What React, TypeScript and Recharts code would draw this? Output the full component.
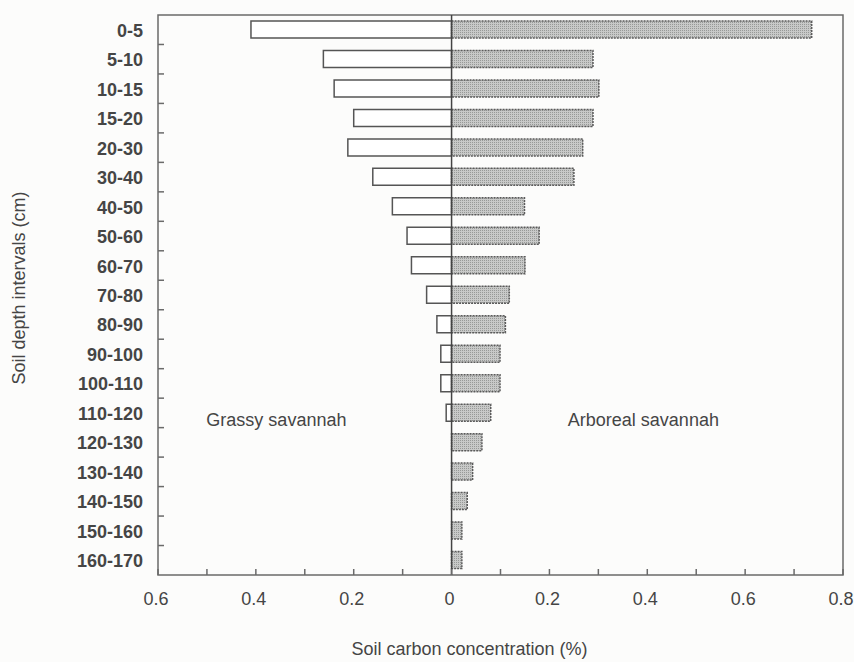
import React from 'react';
import { BarChart, Bar, XAxis, YAxis, ReferenceLine, ReferenceArea, ReferenceDot, Label } from 'recharts';

const categories = ['0-5', '5-10', '10-15', '15-20', '20-30', '30-40', '40-50', '50-60', '60-70', '70-80', '80-90', '90-100', '100-110', '110-120', '120-130', '130-140', '140-150', '150-160', '160-170'];
const grassy = [0.41, 0.262, 0.24, 0.2, 0.212, 0.161, 0.121, 0.091, 0.082, 0.051, 0.03, 0.022, 0.022, 0.011, 0, 0, 0, 0, 0];
const arboreal = [0.736, 0.289, 0.301, 0.289, 0.268, 0.25, 0.149, 0.179, 0.15, 0.118, 0.11, 0.099, 0.099, 0.08, 0.062, 0.043, 0.032, 0.021, 0.021];
const xTicks = [-0.6, -0.5, -0.4, -0.3, -0.2, -0.1, 0, 0.1, 0.2, 0.3, 0.4, 0.5, 0.6, 0.7, 0.8];

const data = categories.map((c, i) => ({ depth: c, grassy: -grassy[i], arboreal: arboreal[i] }));

const TEXT = '#454545';
const LINE = '#6a6a6a';
const FONT = 'Arial, "Liberation Sans", Helvetica, sans-serif';

const XTick = (props: any) => {
  const { x, y, payload } = props;
  const v = payload.value as number;
  const major = Math.round(v * 10) % 2 === 0;
  return (
    <g>
      <line x1={x} y1={y} x2={x} y2={y - 6} stroke={LINE} strokeWidth={1.5} />
      {major && (
        <text x={x - 2} y={y + 30} textAnchor="middle" fontSize={18} fill={TEXT} fontFamily={FONT}>
          {Math.abs(v) === 0 ? '0' : String(Math.abs(v))}
        </text>
      )}
    </g>
  );
};

const YTick = (props: any) => {
  const { x, y, payload, index, visibleTicksCount } = props;
  const half = payload && typeof payload.offset === 'number' && payload.offset > 0 ? payload.offset : 14.74;
  const last = index === (visibleTicksCount ?? categories.length) - 1;
  return (
    <g>
      {!last && <line x1={x} y1={y + half} x2={x + 6} y2={y + half} stroke={LINE} strokeWidth={1.5} />}
      <text x={x - 15} y={y + 7} textAnchor="end" fontSize={18} fontWeight="bold" fill={TEXT} fontFamily={FONT}>
        {payload.value}
      </text>
    </g>
  );
};

const YTitle = (props: any) => {
  const vb = props.viewBox || { x: 0, y: 15, width: 158, height: 560 };
  const cx = vb.x + 25;
  const cy = vb.y + vb.height / 2 - 7;
  return (
    <text x={cx} y={cy} transform={`rotate(-90 ${cx} ${cy})`} textAnchor="middle" fontSize={18} fill={TEXT} fontFamily={FONT}>
      Soil depth intervals  (cm)
    </text>
  );
};

const XTitle = (props: any) => {
  const vb = props.viewBox || { x: 158, y: 575, width: 685, height: 30 };
  return (
    <text x={vb.x + vb.width / 2 - 31} y={vb.y + 80} textAnchor="middle" fontSize={18} fill={TEXT} fontFamily={FONT}>
      Soil carbon concentration (%)
    </text>
  );
};

const anno = (txt: string) => (props: any) => {
  const vb = props.viewBox;
  if (!vb) return null;
  return (
    <text x={vb.x + (vb.width || 0) / 2} y={vb.y + (vb.height || 0) / 2 + 13} textAnchor="middle" fontSize={18} fill={TEXT} fontFamily={FONT}>
      {txt}
    </text>
  );
};

export default function App() {
  return (
    <div style={{ position: 'absolute', left: 0, top: 0, width: 854, height: 662, background: '#fcfcfb' }}>
      <BarChart
        width={854}
        height={662}
        data={data}
        layout="vertical"
        stackOffset="sign"
        margin={{ top: 15, right: 11, bottom: 57, left: 0 }}
      >
        <defs>
          <pattern id="stip" width="2" height="2" patternUnits="userSpaceOnUse">
            <rect width="2" height="2" fill="#c8c9c8" />
            <rect width="1" height="1" fill="#979997" />
          </pattern>
        </defs>
        <XAxis
          type="number"
          domain={[-0.6, 0.8]}
          ticks={xTicks}
          interval={0}
          axisLine={false}
          tickLine={false}
          tickSize={0}
          tickMargin={0}
          height={30}
          tick={<XTick />}
          allowDataOverflow
        >
          <Label content={<XTitle />} />
        </XAxis>
        <YAxis
          type="category"
          dataKey="depth"
          width={158}
          axisLine={false}
          tickLine={false}
          tickSize={0}
          tickMargin={0}
          interval={0}
          tick={<YTick />}
        >
          <Label content={<YTitle />} />
        </YAxis>
        <ReferenceArea x1={-0.6} x2={0.8} fill="none" stroke={LINE} strokeWidth={1.5} fillOpacity={0} />
        <Bar dataKey="grassy" stackId="s" barSize={17} fill="#ffffff" stroke="#555555" strokeWidth={1.5} isAnimationActive={false} />
        <Bar dataKey="arboreal" stackId="s" barSize={17} fill="url(#stip) #bbbcbb" stroke="#5a5a5a" strokeWidth={1.5} strokeDasharray="2 1" isAnimationActive={false} />
        <ReferenceLine x={0} stroke="#444444" strokeWidth={1.5} />
        <ReferenceDot x={-0.358} y="110-120" r={0} fill="none" stroke="none" label={anno('Grassy savannah')} />
        <ReferenceDot x={0.392} y="110-120" r={0} fill="none" stroke="none" label={anno('Arboreal savannah')} />
      </BarChart>
    </div>
  );
}
